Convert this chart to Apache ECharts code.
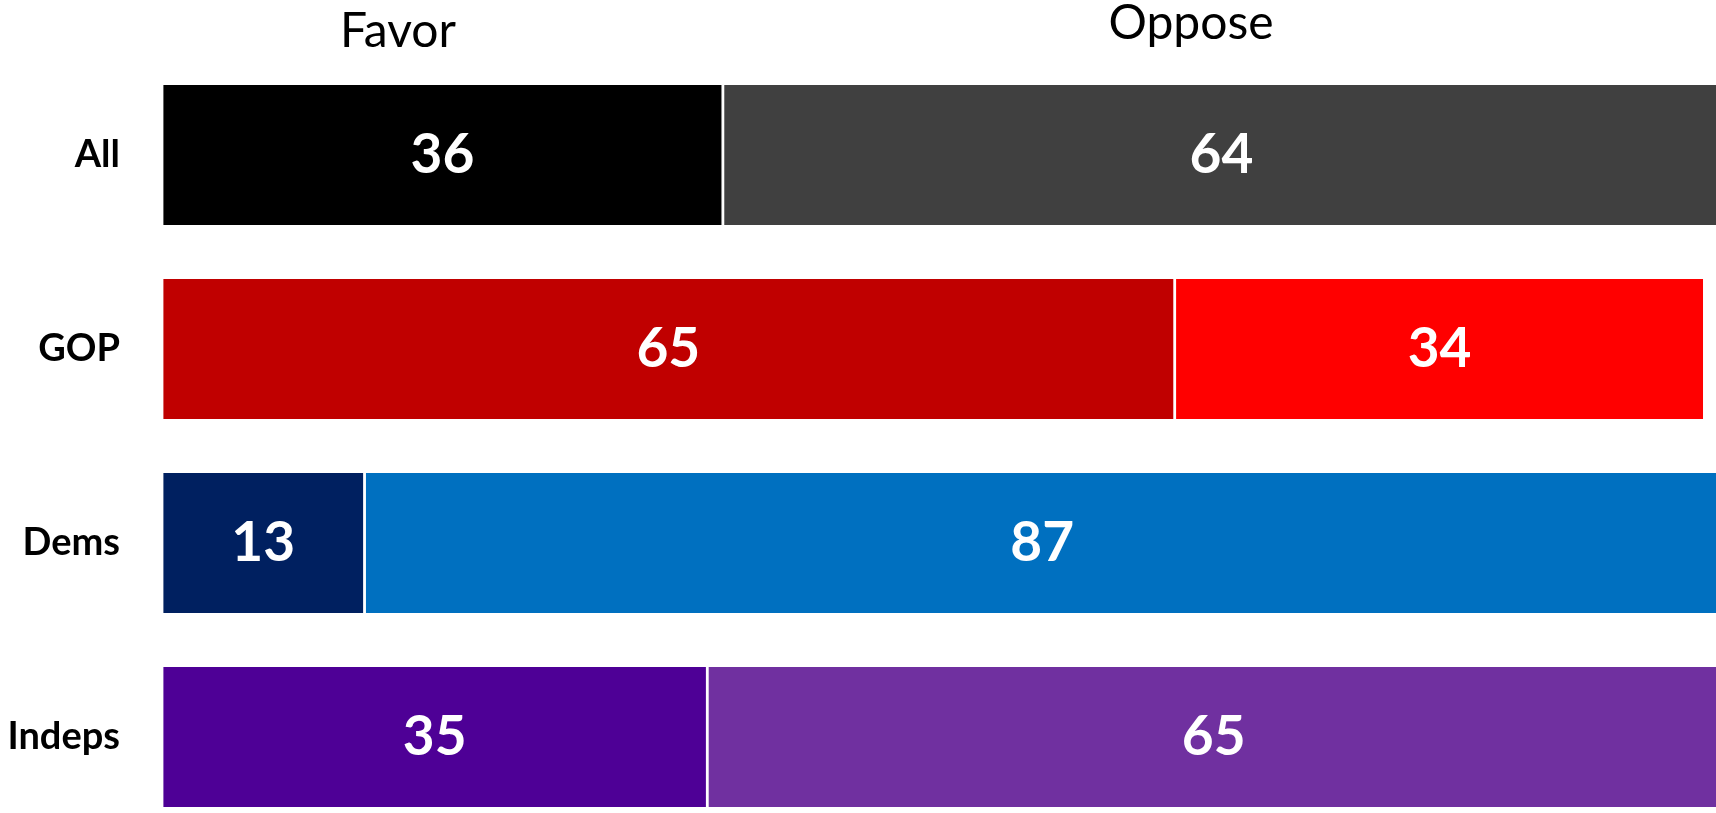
<!DOCTYPE html>
<html>
<head>
<meta charset="utf-8">
<title>Favor / Oppose by party</title>
<script src="https://cdn.jsdelivr.net/npm/echarts@6/dist/echarts.min.js"></script>
<style>
  html, body { margin: 0; padding: 0; background: #ffffff; }
  #chart { width: 1716px; height: 813px; }
</style>
</head>
<body>
<div id="chart"></div>
<script>
// Groups shown top to bottom
const categories = ['All', 'GOP', 'Dems', 'Indeps'];
// Share (%) in favor and opposed for each group
const favorValues = [36, 65, 13, 35];
const opposeValues = [64, 34, 87, 65];
// Segment colours per group
const favorColors = ['#000000', '#C00000', '#002060', '#4E0096'];
const opposeColors = ['#404040', '#FF0000', '#0070C0', '#7030A0'];
// Column headings
const headings = ['Favor', 'Oppose'];

const FONT = 'Lato, "Open Sans", "Noto Sans", sans-serif';

function segments(values, colors) {
  return values.map((v, i) => ({ value: v, itemStyle: { color: colors[i] } }));
}

const valueLabel = {
  show: true,
  position: 'inside',
  color: '#ffffff',
  fontFamily: FONT,
  fontWeight: 'bold',
  fontSize: 55
};

const chart = echarts.init(document.getElementById('chart'), null, { renderer: 'canvas' });

chart.setOption({
  animation: false,
  backgroundColor: '#ffffff',
  grid: {
    left: 162, top: 58, width: 1558, height: 776,
    containLabel: false,
    outerBoundsMode: 'none'
  },
  xAxis: {
    type: 'value',
    min: 0,
    max: 100,
    show: false
  },
  yAxis: {
    type: 'category',
    data: categories,
    inverse: true,
    axisLine: { show: false },
    axisTick: { show: false },
    splitLine: { show: false },
    axisLabel: {
      margin: 42,
      color: '#000000',
      fontFamily: FONT,
      fontWeight: 'bold',
      fontSize: 38
    }
  },
  graphic: [
    {
      type: 'text',
      x: 398,
      y: 32,
      style: {
        text: headings[0],
        fill: '#000000',
        font: '48px ' + FONT,
        align: 'center',
        verticalAlign: 'middle'
      }
    },
    {
      type: 'text',
      x: 1191,
      y: 24,
      style: {
        text: headings[1],
        fill: '#000000',
        font: '48px ' + FONT,
        align: 'center',
        verticalAlign: 'middle'
      }
    }
  ],
  series: [
    {
      name: headings[0],
      type: 'bar',
      stack: 'total',
      barWidth: 143,
      data: segments(favorValues, favorColors),
      itemStyle: { borderColor: '#ffffff', borderWidth: 1.4 },
      label: valueLabel
    },
    {
      name: headings[1],
      type: 'bar',
      stack: 'total',
      barWidth: 143,
      data: segments(opposeValues, opposeColors),
      itemStyle: { borderColor: '#ffffff', borderWidth: 1.4 },
      label: valueLabel
    }
  ]
});
</script>
</body>
</html>
